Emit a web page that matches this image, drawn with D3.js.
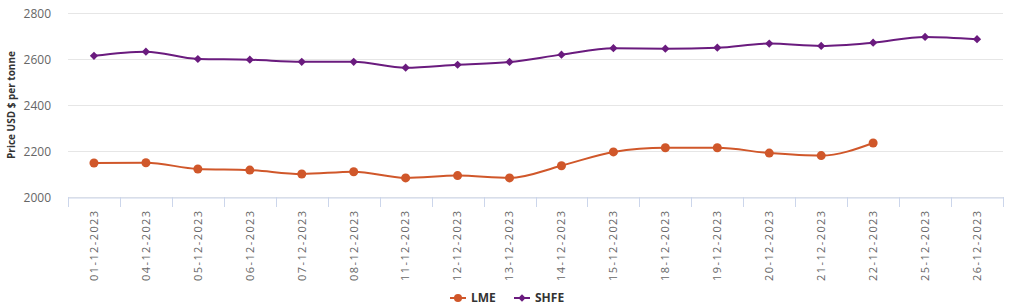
<!DOCTYPE html>
<html>
<head>
  <meta charset="utf-8">
  <title>LME vs SHFE</title>
  <style>
    body { margin: 0; background: #fff; }
    svg text { font-family: "Open Sans", "DejaVu Sans", sans-serif; }
  </style>
</head>
<body>
  <svg width="1012" height="308" class="chart"></svg>

  <script src="https://d3js.org/d3.v7.min.js"></script>
  <script type="text/javascript">

  // dates on the x axis
  var dates = ["01-12-2023", "04-12-2023", "05-12-2023", "06-12-2023", "07-12-2023", "08-12-2023",
    "11-12-2023", "12-12-2023", "13-12-2023", "14-12-2023", "15-12-2023", "18-12-2023",
    "19-12-2023", "20-12-2023", "21-12-2023", "22-12-2023", "25-12-2023", "26-12-2023"];

  // prices, USD per tonne (LME has no value for 25th and 26th)
  var lme = [2148, 2149, 2122, 2117, 2100, 2110, 2083, 2093, 2083, 2136, 2196, 2214,
    2214, 2191, 2180, 2235, null, null];
  var shfe = [2614, 2632, 2600, 2597, 2588, 2588, 2562, 2575, 2587, 2619, 2647, 2645,
    2649, 2667, 2657, 2671, 2696, 2686];

  var yTicks = [2000, 2200, 2400, 2600, 2800];

  var svg = d3.select(".chart");
  // plot box (note: "top" would clash with window.top)
  var pLeft = 68, pRight = 1003, pTop = 13, pBottom = 197;

  var x = d3.scaleBand().domain(dates).range([pLeft, pRight]);
  var y = d3.scaleLinear().domain([2000, 2800]).range([pBottom, pTop]);

  // grid
  svg.append("g")
    .selectAll("line")
    .data(yTicks)
    .enter().append("line")
    .attr("x1", pLeft)
    .attr("x2", pRight)
    .attr("y1", function(d) { return Math.round(y(d)) + 0.5; })
    .attr("y2", function(d) { return Math.round(y(d)) + 0.5; })
    .style("stroke", "#e6e6e6");

  // y axis labels
  var yAxis = svg.append("g")
    .attr("transform", "translate(" + (pLeft - 14) + ",0)")
    .call(d3.axisLeft(y).tickValues(yTicks).tickSize(0).tickFormat(d3.format("d")));
  yAxis.select(".domain").remove();
  yAxis.selectAll("text")
    .style("font-size", "12px")
    .style("fill", "#666")
    .attr("dy", "0.35em");

  svg.append("text")
    .attr("transform", "translate(15," + ((pTop + pBottom) / 2) + ") rotate(-90)")
    .attr("text-anchor", "middle")
    .style("font-size", "10px")
    .style("font-weight", "bold")
    .style("fill", "#333")
    .text("Price USD $ per tonne");

  // x axis
  var xAxis = svg.append("g")
    .attr("transform", "translate(0," + (pBottom + 0.5) + ")")
    .call(d3.axisBottom(x).tickSize(0));
  xAxis.select(".domain").style("stroke", "#ccd6eb");
  xAxis.selectAll("text")
    .attr("transform", "rotate(-90)")
    .attr("text-anchor", "end")
    .attr("x", -12)
    .attr("y", 0)
    .attr("dy", "0.35em")
    .style("font-size", "11px")
    .style("letter-spacing", "1.4px")
    .style("fill", "#666");

  // tick marks between categories
  var edges = dates.map(function(d) { return x(d); }).concat([pRight]);
  svg.append("g")
    .selectAll("line")
    .data(edges)
    .enter().append("line")
    .attr("x1", function(d) { return Math.round(d) + 0.5; })
    .attr("x2", function(d) { return Math.round(d) + 0.5; })
    .attr("y1", pBottom)
    .attr("y2", pBottom + 10)
    .style("stroke", "#ccd6eb");

  var cx = function(i) { return x(dates[i]) + x.bandwidth() / 2; };

  var line = d3.line()
    .defined(function(d) { return d != null; })
    .x(function(d, i) { return cx(i); })
    .y(function(d) { return y(d); })
    .curve(d3.curveMonotoneX);

  // diamond = square turned 45deg
  var series = [
    { name: "LME", values: lme, color: "#d0572a", symbol: d3.symbolCircle, size: 64, rot: 0 },
    { name: "SHFE", values: shfe, color: "#6a1b7e", symbol: d3.symbolSquare, size: 34, rot: 45 }
  ];

  series.forEach(function(s) {
    svg.append("path")
      .datum(s.values)
      .attr("d", line)
      .style("fill", "none")
      .style("stroke", s.color)
      .style("stroke-width", 2);

    svg.append("g")
      .selectAll("path")
      .data(s.values.map(function(v, i) { return { v: v, i: i }; }).filter(function(d) { return d.v != null; }))
      .enter().append("path")
      .attr("d", d3.symbol().type(s.symbol).size(s.size))
      .attr("transform", function(d) { return "translate(" + cx(d.i) + "," + y(d.v) + ") rotate(" + s.rot + ")"; })
      .style("fill", s.color);
  });

  // legend
  var legend = svg.append("g").attr("transform", "translate(450,298)");
  var lx = [0, 64];
  series.forEach(function(s, k) {
    var g = legend.append("g").attr("transform", "translate(" + lx[k] + ",0)");
    g.append("line")
      .attr("x1", 0).attr("x2", 16)
      .style("stroke", s.color)
      .style("stroke-width", 2);
    g.append("path")
      .attr("d", d3.symbol().type(s.symbol).size(s.size * 0.8))
      .attr("transform", "translate(8,0) rotate(" + s.rot + ")")
      .style("fill", s.color);
    g.append("text")
      .attr("x", 21)
      .attr("dy", "0.35em")
      .style("font-size", "12px")
      .style("font-weight", "bold")
      .style("fill", "#333")
      .text(s.name);
  });

  </script>
</body>
</html>
